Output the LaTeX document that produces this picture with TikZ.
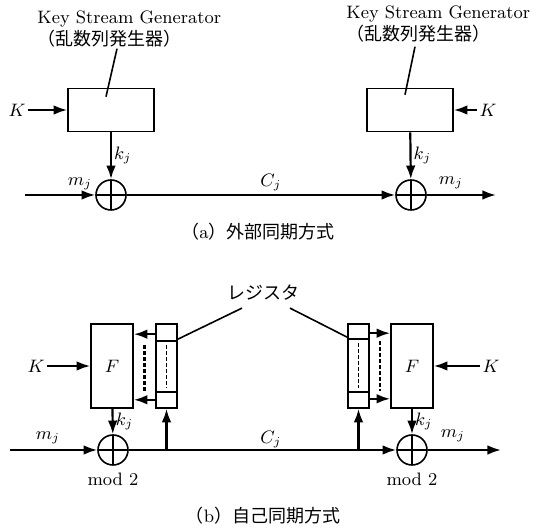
\documentclass[tikz,border=0pt]{standalone}
\usepackage{fontspec}
\newfontfamily\jp{Noto Sans CJK JP}
\usetikzlibrary{arrows.meta,positioning,calc}

\begin{document}
\begin{tikzpicture}[x=0.5pt, y=-0.5pt, font=\fontsize{9}{11}\selectfont,
  gen/.style={draw, line width=0.8pt, minimum width=43pt, minimum height=21.5pt, inner sep=0pt},
  fbox/.style={draw, line width=0.8pt, minimum width=21pt, minimum height=42pt, inner sep=0pt},
  reg/.style={draw, line width=0.8pt, minimum width=10.5pt, minimum height=42pt, inner sep=0pt},
  xor/.style={circle, draw, line width=0.8pt, minimum size=15pt, inner sep=0pt,
    path picture={\draw[line width=0.8pt] (path picture bounding box.north) -- (path picture bounding box.south)
      (path picture bounding box.west) -- (path picture bounding box.east);}},
  arr/.style={-{Latex[length=2.4mm, width=1.7mm]}, line width=1.1pt},
  dline/.style={line width=1.1pt, dash pattern=on 2pt off 1pt},
  lbl/.style={inner sep=1pt}]
\useasboundingbox (0,0) rectangle (536,528);

% (a)
\node[anchor=west, align=left, inner sep=0pt] (genLblL) at (37,29) {Key Stream Generator\\{\jp （乱数列発生器）}};
\node[anchor=west, align=left, inner sep=0pt] (genLblR) at (346,24) {Key Stream Generator\\{\jp （乱数列発生器）}};
\node[gen] (genL) at (111,110) {};
\node[gen] (genR) at (410,110) {};
\node[xor] (xorA1) at (111,195) {};
\node[xor] (xorA2) at (411,195) {};
\node[lbl] (kA1) at (17,110) {$K$};
\node[lbl] (kA2) at (488,110) {$K$};
\coordinate (inA) at (25,195);
\coordinate (outA) at (496,195);
\node[lbl] (mA1) at (80,184) {$m_j$};
\node[lbl] (cA) at (271,183) {$C_j$};
\node[lbl] (mA2) at (451,183) {$m_j$};
\node (capA) at (258,232) {{\jp （}a{\jp ）外部同期方式}};
\draw[line width=0.8pt] ($(genL.north)+(6,-39)$) -- ($(genL.north)+(-5,9)$);
\draw[line width=0.8pt] ($(genR.north)+(5,-41)$) -- ($(genR.north)+(-5,7)$);
\draw[arr] (kA1) -- (genL);
\draw[arr] (kA2) -- (genR);
\draw[arr] (genL) -- node[right, lbl] {$k_j$} (xorA1);
\draw[arr] (genR) -- node[right, lbl] {$k_j$} (xorA2);
\draw[arr] (inA) -- (xorA1);
\draw[arr] (xorA1) -- (xorA2);
\draw[arr] (xorA2) -- (outA);

% (b)
\node[inner sep=0pt] (regLbl) at (263,293) {\jp レジスタ};
\node[fbox] (FL) at (112,366) {$F$};
\node[reg] (regL) at (166.5,366) {};
\node[reg] (regR) at (358.5,366) {};
\node[fbox] (FR) at (412,366) {$F$};
\node[xor] (xorB1) at (113,450) {};
\node[xor] (xorB2) at (412,450) {};
\node[lbl] (kB1) at (36,366) {$K$};
\node[lbl] (kB2) at (491,366) {$K$};
\coordinate (inB) at (10,450);
\coordinate (outB) at (501,450);
\coordinate (tapL) at (regL.south |- xorB1);
\coordinate (tapR) at (regR.south |- xorB2);
\node[lbl] (mB1) at (48,438) {$m_j$};
\node[lbl] (cB) at (271,440) {$C_j$};
\node[lbl] (mB2) at (453,436) {$m_j$};
\node[below=0pt of xorB1] (modL) {mod 2};
\node[below=0pt of xorB2] (modR) {mod 2};
\node (capB) at (263,516) {{\jp （}b{\jp ）自己同期方式}};
% register cells
\draw[line width=0.8pt] ($(regL.north west)+(0,18)$) -- ($(regL.north east)+(0,18)$)
  ($(regL.south west)+(0,-17)$) -- ($(regL.south east)+(0,-17)$);
\draw[line width=0.8pt] ($(regR.north west)+(0,16)$) -- ($(regR.north east)+(0,16)$)
  ($(regR.south west)+(0,-17)$) -- ($(regR.south east)+(0,-17)$);
\draw[dline, line width=0.7pt] ($(regL.north)+(0,22)$) -- ($(regL.south)+(0,-21)$);
\draw[dline, line width=0.7pt] ($(regR.north)+(0,20)$) -- ($(regR.south)+(0,-21)$);
\draw[line width=0.8pt] ($(regLbl.south)+(-21,7)$) -- ($(regL.north east)+(0,16)$);
\draw[line width=0.8pt] ($(regLbl.south)+(27,7)$) -- ($(regR.north west)+(0,14)$);
\draw[arr] ($(regL.north west)+(0,11)$) -- ($(FL.north east)+(0,11)$);
\draw[arr] ($(regL.south west)+(0,-9)$) -- ($(FL.south east)+(0,-9)$);
\draw[arr] ($(regR.north east)+(0,10)$) -- ($(FR.north west)+(0,10)$);
\draw[arr] ($(regR.south east)+(0,-10)$) -- ($(FR.south west)+(0,-10)$);
\draw[dline] ($(FL.north east)!0.5!(regL.north west)+(0,22)$) -- ($(FL.south east)!0.5!(regL.south west)+(0,-17)$);
\draw[dline] ($(regR.north east)!0.5!(FR.north west)+(0,18)$) -- ($(regR.south east)!0.5!(FR.south west)+(0,-18)$);
\draw[arr] (kB1) -- (FL);
\draw[arr] (kB2) -- (FR);
\draw[arr] (FL) -- node[right, lbl] {$k_j$} (xorB1);
\draw[arr] (FR) -- node[right, lbl] {$k_j$} (xorB2);
\draw[arr] (inB) -- (xorB1);
\draw[arr] (xorB1) -- (xorB2);
\draw[arr] (xorB2) -- (outB);
\draw[arr] (tapL) -- (regL.south);
\draw[arr] (tapR) -- (regR.south);
\end{tikzpicture}
\end{document}
